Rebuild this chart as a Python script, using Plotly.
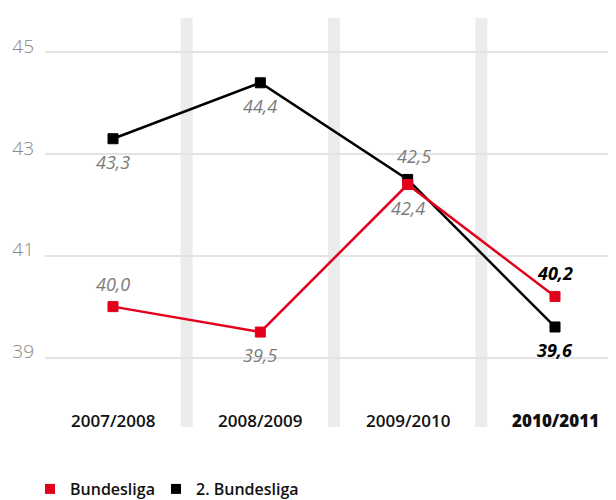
import plotly.graph_objects as go

seasons = ["2007/2008", "2008/2009", "2009/2010", "2010/2011"]
bundesliga = [40.0, 39.5, 42.4, 40.2]
zweite_bundesliga = [43.3, 44.4, 42.5, 39.6]
series_names = ["Bundesliga", "2. Bundesliga"]
y_ticks = [39, 41, 43, 45]

RED = "#e2001a"
BLACK = "#000000"
x_idx = list(range(len(seasons)))

def fmt(v):
    return f"{v:.1f}".replace(".", ",")

fig = go.Figure()

# vertical separator bands
for i in range(len(seasons) - 1):
    fig.add_shape(type="rect", xref="x", yref="paper", x0=i + 0.5 - 0.041, x1=i + 0.5 + 0.041,
                  y0=0, y1=1, fillcolor="#ececec", line_width=0, layer="below")

for name, vals, col in [(series_names[1], zweite_bundesliga, BLACK), (series_names[0], bundesliga, RED)]:
    fig.add_trace(go.Scatter(x=x_idx, y=vals, mode="lines+markers", name=name,
                             line=dict(color=col, width=2.5),
                             marker=dict(symbol="square", size=10, color=col, line=dict(color=col, width=1)),
                             showlegend=False, hoverinfo="skip"))

# legend-only traces (one legend each for precise placement)
for name, col, lg in [(series_names[0], RED, "legend"), (series_names[1], BLACK, "legend2")]:
    fig.add_trace(go.Scatter(x=[None], y=[None], mode="markers", name=name, legend=lg,
                             marker=dict(symbol="square", size=10, color=col)))

# data labels: offsets (style) per series
red_pos = [1, -1, -1, 1]
black_pos = [-1, -1, 1, -1]
black_xshift = [0, 0, 6, 0]
for vals, pos, xs in [(bundesliga, red_pos, [0, 0, 0, 0]), (zweite_bundesliga, black_pos, black_xshift)]:
    for i, v in enumerate(vals):
        last = i == len(vals) - 1
        fig.add_annotation(x=i, y=v, xref="x", yref="y", text=fmt(v), showarrow=False,
                           yshift=23 * pos[i], xshift=xs[i], yanchor="middle",
                           font=dict(family="Open Sans", size=18, style="italic",
                                     color="#000" if last else "#7a7a7a",
                                     weight=700 if last else 400))

# category labels
for i, s in enumerate(seasons):
    last = i == len(seasons) - 1
    fig.add_annotation(x=i, y=0.017, xref="x", yref="paper", text=s, showarrow=False,
                       yanchor="middle",
                       font=dict(family="Open Sans", size=17, color="#111",
                                 weight=800 if last else 600))

# page has an 8px body margin: size the figure so it fills the 616x500 window
W, H = 608, 492
legend_style = dict(orientation="h", xref="container", yref="container",
                    xanchor="left", yanchor="middle", y=1 - 481 / H,
                    font=dict(family="Open Sans", size=16, color="#111", weight=600),
                    itemwidth=30, tracegroupgap=0, bgcolor="rgba(0,0,0,0)")
fig.update_layout(
    width=W, height=H,
    margin=dict(l=37, r=0, t=10, b=73),
    plot_bgcolor="white", paper_bgcolor="white",
    xaxis=dict(range=[-0.4615, 3.414], showgrid=False, zeroline=False, showticklabels=False,
               fixedrange=True),
    yaxis=dict(range=[37.634, 45.673], tickvals=y_ticks, ticktext=[str(t) for t in y_ticks],
               showgrid=True, gridcolor="#e3e3e3", gridwidth=2, zeroline=False,
               tickfont=dict(family="Open Sans", size=19, color="#888888", weight=300),
               ticklabelshift=-6, ticks="", ticklabelstandoff=10),
    legend=dict(x=22 / W, **legend_style),
    legend2=dict(x=148 / W, **legend_style),
    showlegend=True,
)

fig.write_html("out.html")
